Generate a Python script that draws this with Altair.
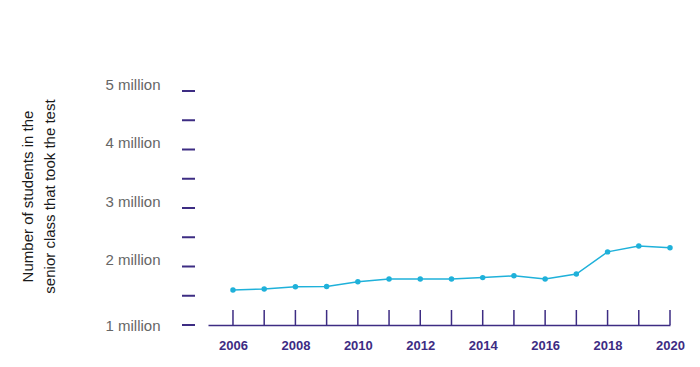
import altair as alt
import pandas as pd

years = list(range(2006, 2021))
students_million = [1.60, 1.615, 1.655, 1.66, 1.74, 1.786, 1.786, 1.786, 1.81, 1.84,
                    1.786, 1.87, 2.25, 2.35, 2.32]
y_ticks = [1, 1.5, 2, 2.5, 3, 3.5, 4, 4.5, 5]
y_label_values = [1, 2, 3, 4, 5]
x_label_years = [2006, 2008, 2010, 2012, 2014, 2016, 2018, 2020]

df = pd.DataFrame({"year": years, "students": students_million})
tick_df = pd.DataFrame({"v": y_ticks})

purple = "#3d2c83"
cyan = "#1fb1da"
font = "Liberation Sans"

x_scale = alt.Scale(domain=[2005.2, 2020], nice=False, zero=False)
y_scale = alt.Scale(domain=[1, 5], nice=False, zero=False)

x_enc = alt.X(
    "year:Q",
    scale=x_scale,
    axis=alt.Axis(
        values=x_label_years,
        format="d",
        ticks=False,
        grid=False,
        domainColor=purple,
        domainWidth=1.5,
        labelColor=purple,
        labelFontWeight="bold",
        labelFontSize=13,
        labelFont=font,
        labelPadding=14,
        labelFlush=False,
        labelOverlap=False,
        title=None,
    ),
)

y_enc = alt.Y(
    "students:Q",
    scale=y_scale,
    axis=alt.Axis(
        values=y_label_values,
        labelExpr="datum.value + ' million'",
        domain=False,
        grid=False,
        ticks=False,
        offset=13,
        labelPadding=35,
        labelOffset={"condition": {"test": "datum.value == 1", "value": 0}, "value": -7},
        labelColor="#666666",
        labelFontSize=15,
        labelFont=font,
        title=["Number of students in the", "senior class that took the test"],
        titleFont=font,
        titleFontSize=15,
        titleFontWeight="normal",
        titleColor="#1a1a1a",
        titleLineHeight=22,
        titleBaseline="middle",
        titleAlign="center",
        titleAngle=-90,
        titleX=-168,
        titleY=105,
    ),
)

x_ticks = alt.Chart(df).mark_rule(color=purple, strokeWidth=1.5).encode(
    x=alt.X("year:Q", scale=x_scale),
    y=alt.value(234),
    y2=alt.value(219),
)

y_tick_marks = alt.Chart(tick_df).mark_rule(color=purple, strokeWidth=2).encode(
    y=alt.Y("v:Q", scale=y_scale),
    x=alt.value(-26),
    x2=alt.value(-13),
)

line = alt.Chart(df).mark_line(color=cyan, strokeWidth=1.5).encode(x=x_enc, y=y_enc)
points = alt.Chart(df).mark_circle(color=cyan, size=30, opacity=1).encode(
    x=alt.X("year:Q", scale=x_scale), y=alt.Y("students:Q", scale=y_scale)
)

chart = (
    alt.layer(line, x_ticks, y_tick_marks, points)
    .properties(
        width=462,
        height=234,
        background="white",
        autosize=alt.AutoSizeParams(type="none"),
        padding={"left": 200, "top": 83, "right": 22, "bottom": 26},
    )
    .configure_view(strokeWidth=0, stroke="transparent")
)

chart.save("out.html", embed_options={"renderer": "svg", "actions": False})
